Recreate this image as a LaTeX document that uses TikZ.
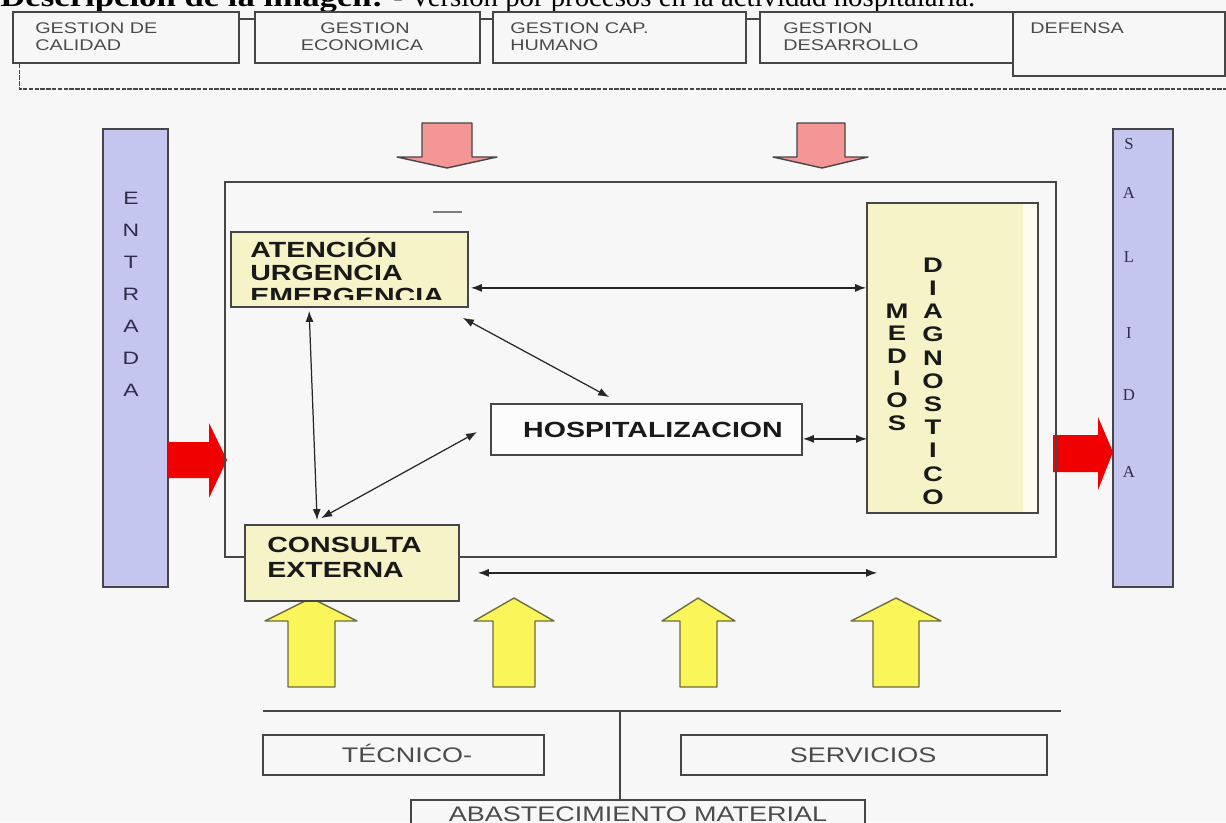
\documentclass[tikz,border=0pt]{standalone}
\usepackage{fontspec}
\setmainfont{Liberation Serif}
\newfontfamily\sfr[FakeStretch=1.28]{Liberation Sans}
\newfontfamily\sfb[FakeStretch=1.3]{Liberation Sans}
\usetikzlibrary{arrows.meta,calc,fit}
\definecolor{bgc}{RGB}{247,247,247}
\definecolor{lineclr}{RGB}{70,70,70}
\definecolor{lav}{RGB}{197,198,240}
\definecolor{ylw}{RGB}{246,243,200}
\definecolor{pinkc}{RGB}{244,150,150}
\definecolor{redc}{RGB}{240,0,0}
\definecolor{yarc}{RGB}{250,246,90}
\definecolor{yarb}{RGB}{110,110,60}
\definecolor{txtg}{RGB}{75,75,75}
\definecolor{txtd}{RGB}{25,25,25}
\definecolor{navy}{RGB}{45,45,75}
\newcommand\myUp[5]{\draw[yar] (#1,687) -- (#1,621) -- (#3,621) -- (#5,598) -- (#4,621) -- (#2,621) -- (#2,687) -- cycle;}
\newcommand\myDown[5]{\draw[par] (#1,123) -- (#2,123) -- (#2,157) -- (#4,157) -- (#5,168) -- (#3,157) -- (#1,157) -- cycle;}
\begin{document}
\begin{tikzpicture}[x=0.02cm,y=-0.02cm,
  box/.style={draw=lineclr, line width=1pt, inner sep=0pt},
  topt/.style={font=\sfr\fontsize{8.8}{9.8}\selectfont, text=txtg, inner sep=0pt},
  boldt/.style={font=\sfb\bfseries\fontsize{12.5}{13}\selectfont, text=txtd, inner sep=0pt},
  lowt/.style={font=\sfr\fontsize{12}{13}\selectfont, text=txtg, inner sep=0pt},
  vlet/.style={font=\sfb\bfseries\fontsize{12}{12}\selectfont, text=txtd, inner sep=0pt},
  elet/.style={font=\sfr\fontsize{10.2}{10.2}\selectfont, text=navy, inner sep=0pt},
  slet/.style={font=\fontsize{9.5}{9.5}\selectfont, text=navy, inner sep=0pt},
  bar/.style={draw=lineclr, line width=1pt, fill=lav, inner sep=0pt},
  dbl/.style={{Latex[length=2.2mm,width=1.6mm]}-{Latex[length=2.2mm,width=1.6mm]}, line width=0.7pt, draw=black!85},
  yar/.style={draw=yarb, line width=0.8pt, fill=yarc, line join=round},
  par/.style={draw=lineclr, line width=0.8pt, fill=pinkc, line join=round},
  dashline/.style={draw=lineclr, line width=0.6pt, dash pattern=on 2.5pt off 0.8pt}
]
\useasboundingbox (0,0) rectangle (1226,822);
\fill[bgc] (0,0) rectangle (1226,822);

% title (cut by the page top, as in the reference)
\node[anchor=base west, inner sep=0pt] (title1) at (0,6) {\resizebox{7.66cm}{\height}{\fontsize{16}{16}\selectfont\bfseries Descripción de la imagen:}};
\node[anchor=base west, inner sep=0pt] (title2) at (393,6) {\resizebox{11.64cm}{\height}{\fontsize{16}{16}\selectfont - Versión por procesos en la actividad hospitalaria.}};

% top management boxes
\node[box, fill=bgc, fit={(13,12) (239,63)}] (q1) {};
\node[box, fill=bgc, fit={(255,12) (480,63)}] (q2) {};
\node[box, fill=bgc, fit={(493,12) (746,63)}] (q3) {};
\node[box, fill=bgc, fit={(760,12) (1015,63)}] (q4) {};
\node[box, fill=bgc, fit={(1013,12) (1225,76)}] (q5) {};
\node[topt, anchor=base west] (q1a) at (35,33) {GESTION DE};
\node[topt, anchor=base west] (q1b) at (35,50) {CALIDAD};
\node[topt, anchor=base] (q2a) at (365,33) {GESTION};
\node[topt, anchor=base] (q2b) at (362,50) {ECONOMICA};
\node[topt, anchor=base west] (q3a) at (510,33) {GESTION CAP.};
\node[topt, anchor=base west] (q3b) at (510,50) {HUMANO};
\node[topt, anchor=base west] (q4a) at (783,33) {GESTION};
\node[topt, anchor=base west] (q4b) at (783,50) {DESARROLLO};
\node[topt, anchor=base west] (q5a) at (1030,33) {DEFENSA};
\draw[lineclr, line width=0.8pt] ($(q1.north east)+(0,8)$) -- ($(q2.north west)+(0,8)$);
\draw[lineclr, line width=0.8pt] ($(q2.north east)+(0,8)$) -- ($(q3.north west)+(0,8)$);
\draw[lineclr, line width=0.8pt] ($(q3.north east)+(0,8)$) -- ($(q4.north west)+(0,8)$);
\coordinate (dashR) at (1226,89);
\draw[dashline] ($(q1.south west)+(7,0)$) |- (dashR);

% pink input arrows
\myDown{422}{472}{397}{497}{447}
\myDown{797}{845}{773}{868}{822}

% entrada / salida bars
\node[bar, fit={(103,129) (168,587)}] (entrada) {};
\foreach \c [count=\i from 0] in {E,N,T,R,A,D,A}
  \node[elet] (e\i) at (131,198+32*\i) {\c};
\node[bar, fit={(1113,129) (1173,587)}] (salida) {};
\node[slet] (s0) at (1129,144) {S};
\node[slet] (s1) at (1129,193) {A};
\node[slet] (s2) at (1129,257) {L};
\node[slet] (s3) at (1129,333) {I};
\node[slet] (s4) at (1129,395) {D};
\node[slet] (s5) at (1129,472) {A};

% red arrows
\fill[redc] (168,442) -- (209,442) -- (209,423) -- (227,460) -- (209,498) -- (209,478) -- (168,478) -- cycle;
\fill[redc] (1053,435) -- (1098,435) -- (1098,417) -- (1113,452) -- (1098,490) -- (1098,472) -- (1053,472) -- cycle;

% main process frame
\node[box, fit={(225,182) (1056,557)}] (frame) {};
\draw[lineclr!70, line width=1pt] (433,212) -- (462,212);

% yellow resource arrows
\myUp{288}{335}{265}{357}{311}
\myUp{493}{535}{474}{554}{514}
\myUp{680}{717}{662}{735}{698}
\myUp{873}{919}{851}{941}{896}

% process boxes
\node[box, fill=ylw, fit={(231,232) (468,307)}] (aten) {};
\begin{scope}
  \clip (231,232) rectangle (468,299);
  \node[boldt, anchor=base west] (aten1) at (250,257) {ATENCIÓN};
  \node[boldt, anchor=base west] (aten2) at (250,280) {URGENCIA};
  \node[boldt, anchor=base west] (aten3) at (250,303) {EMERGENCIA};
\end{scope}
\node[box, fill=white!60!bgc, fit={(491,404) (802,455)}] (hosp) {};
\node[boldt, anchor=base] (hospt) at (653,437) {HOSPITALIZACION};
\node[box, fill=ylw, fit={(245,525) (459,601)}] (cons) {};
\node[boldt, anchor=base west] (cons1) at (267,552) {CONSULTA};
\node[boldt, anchor=base west] (cons2) at (267,577) {EXTERNA};
\node[box, fill=white!70!ylw, fit={(867,203) (1038,513)},
  path picture={\fill[ylw] (path picture bounding box.north west) rectangle ($(path picture bounding box.south east)+(-15,0)$);}] (med) {};
\foreach \c [count=\i from 0] in {M,E,D,I,O,S}
  \node[vlet] (m\i) at (897,311+22.4*\i) {\c};
\foreach \c [count=\i from 0] in {D,I,A,G,N,O,S,T,I,C,O}
  \node[vlet] (d\i) at (933,265+23.2*\i) {\c};

% connectors
\draw[dbl] ($(aten.south east)+(2,-20)$) -- ($(med.south west)+(0,-226)$);
\draw[dbl] ($(hosp.south east)+(0,-17)$) -- ($(med.south west)+(1,-75)$);
\draw[dbl] ($(aten.south east)+(-6,10)$) -- ($(hosp.north west)+(119,-6)$);
\draw[dbl] ($(aten.south west)+(79,3)$) -- ($(cons.north west)+(73,-4)$);
\draw[dbl] ($(cons.north west)+(77,-6)$) -- ($(hosp.west)+(-13,2.5)$);
\draw[dbl] ($(cons.south east)+(18,-29)$) -- ($(med.south west)+(11,59)$);

% support services
\coordinate (busL) at (263,711);
\coordinate (busR) at (1061,711);
\draw[lineclr, line width=1pt] (busL) -- (busR);
\node[box, fill=bgc, fit={(263,735) (544,775)}] (tec) {};
\node[box, fill=bgc, fit={(681,735) (1047,775)}] (serv) {};
\node[box, fill=bgc, fit={(411,800) (865,830)}] (abast) {};
\node[lowt, anchor=base] (tect) at (407,762) {TÉCNICO-};
\node[lowt, anchor=base] (servt) at (863,762) {SERVICIOS};
\node[lowt, anchor=base] (abastt) at (638,821) {ABASTECIMIENTO MATERIAL};
\coordinate (vtop) at ($(abast.north west)+(210,0)$);
\draw[lineclr, line width=1pt] (vtop) -- (vtop |- busL);
\end{tikzpicture}
\end{document}
